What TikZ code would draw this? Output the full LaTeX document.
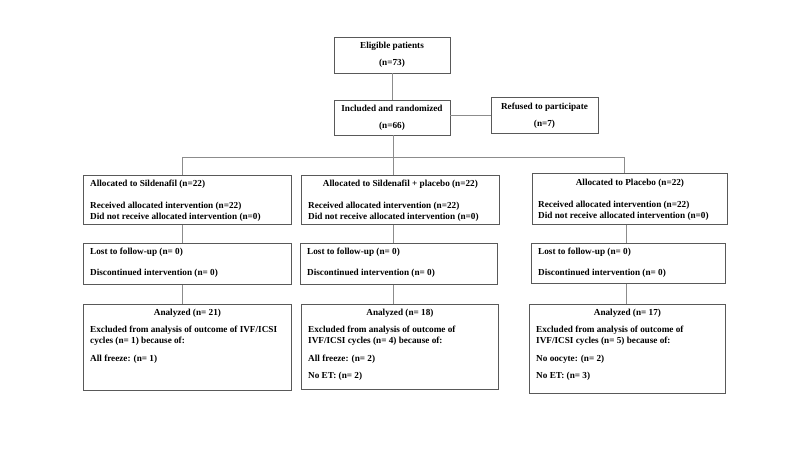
\documentclass[tikz,border=0pt]{standalone}
\usepackage{fontspec}
\setmainfont{Liberation Serif}
\usetikzlibrary{calc}
\begin{document}
\begin{tikzpicture}[x=1pt,y=-1pt,
  box/.style={draw=black!65, line width=0.8pt, rectangle, inner sep=0pt, anchor=north west},
  cbox/.style={draw=black!65, line width=0.8pt, rectangle, inner sep=0pt, align=center, font=\fontsize{9.2}{10.5}\selectfont\bfseries},
  txt/.style={inner sep=0pt, align=left, anchor=north west, font=\fontsize{9.2}{11}\selectfont\bfseries},
  ttl/.style={inner sep=0pt, anchor=north, font=\fontsize{9.2}{11}\selectfont\bfseries},
  link/.style={draw=black!45, line width=0.8pt}]
\useasboundingbox[fill=white] (0,0) rectangle (800,450);

% top
\node[cbox, minimum width=116pt, minimum height=36pt] (elig) at (392,55) {Eligible patients\\[7pt](n=73)};
\node[cbox, minimum width=116pt, minimum height=35pt] (incl) at (392,117.5) {Included and randomized\\[6.5pt](n=66)};
\node[cbox, minimum width=107pt, minimum height=36pt] (ref) at (544.5,115.5) {Refused to participate\\[6.5pt](n=7)};

% allocation row
\node[box, minimum width=208pt, minimum height=49pt] (al1) at (83,175) {};
\node[box, minimum width=198pt, minimum height=49pt] (al2) at (301,175) {};
\node[box, minimum width=195pt, minimum height=51pt] (al3) at (532,173) {};

\node[txt] (al1t) at ($(al1.north west)+(7,5)$) {Allocated to Sildenafil (n=22)\\[11pt]Received allocated intervention (n=22)\\Did not receive allocated intervention (n=0)};
\node[ttl] (al2h) at ($(al2.north)+(0,5)$) {Allocated to Sildenafil + placebo (n=22)};
\node[txt] (al2t) at ($(al2.north west)+(7,27)$) {Received allocated intervention (n=22)\\Did not receive allocated intervention (n=0)};
\node[ttl] (al3h) at ($(al3.north)+(0,6)$) {Allocated to Placebo (n=22)};
\node[txt] (al3t) at ($(al3.north west)+(6,28)$) {Received allocated intervention (n=22)\\Did not receive allocated intervention (n=0)};

% follow-up row
\node[box, minimum width=208pt, minimum height=41pt] (lo1) at (83,243) {};
\node[box, minimum width=197pt, minimum height=41pt] (lo2) at (300,243) {};
\node[box, minimum width=194pt, minimum height=40pt] (lo3) at (531,243) {};
\node[txt] (lo1t) at ($(lo1.north west)+(7,5)$) {Lost to follow-up (n= 0)\\[10pt]Discontinued intervention (n= 0)};
\node[txt] (lo2t) at ($(lo2.north west)+(7,5)$) {Lost to follow-up (n= 0)\\[10pt]Discontinued intervention (n= 0)};
\node[txt] (lo3t) at ($(lo3.north west)+(7,5)$) {Lost to follow-up (n= 0)\\[10pt]Discontinued intervention (n= 0)};

% analysis row
\node[box, minimum width=208pt, minimum height=86pt] (an1) at (83,304) {};
\node[box, minimum width=197pt, minimum height=85pt] (an2) at (301,304) {};
\node[box, minimum width=196pt, minimum height=89pt] (an3) at (529,304) {};
\node[ttl] (an1h) at ($(an1.north)+(0,5)$) {Analyzed (n= 21)};
\node[ttl] (an2h) at ($(an2.north)+(0,5)$) {Analyzed (n= 18)};
\node[ttl] (an3h) at ($(an3.north)+(0,5)$) {Analyzed (n= 17)};
\node[txt] (an1t) at ($(an1.north west)+(7,22)$) {Excluded from analysis of outcome of IVF/ICSI\\cycles (n= 1) because of:\\[6.5pt]All freeze: (n= 1)};
\node[txt] (an2t) at ($(an2.north west)+(7,22)$) {Excluded from analysis of outcome of\\IVF/ICSI cycles (n= 4) because of:\\[6.5pt]All freeze: (n= 2)\\[6.5pt]No ET: (n= 2)};
\node[txt] (an3t) at ($(an3.north west)+(7,22)$) {Excluded from analysis of outcome of\\IVF/ICSI cycles (n= 5) because of:\\[6.5pt]No oocyte: (n= 2)\\[6.5pt]No ET: (n= 3)};

% connectors
\coordinate (c1) at (182,157);
\coordinate (c2) at (393,157);
\coordinate (c3) at (624,157);
\coordinate (d3) at (626,157);

\draw[link] (elig) -- (incl);
\draw[link] (incl.east |- ref.west) -- (ref.west);
\draw[link] (incl.south -| c2) -- (al2.north -| c2);
\draw[link] (al1.north -| c1) -- (c1) -- (c3) -- (al3.north -| c3);

\draw[link] (al1.south -| c1) -- (lo1.north -| c1);
\draw[link] (lo1.south -| c1) -- (an1.north -| c1);
\draw[link] (al2.south -| c2) -- (lo2.north -| c2);
\draw[link] (lo2.south -| c2) -- (an2.north -| c2);
\draw[link] (al3.south -| d3) -- (lo3.north -| d3);
\draw[link] (lo3.south -| d3) -- (an3.north -| d3);
\end{tikzpicture}
\end{document}
